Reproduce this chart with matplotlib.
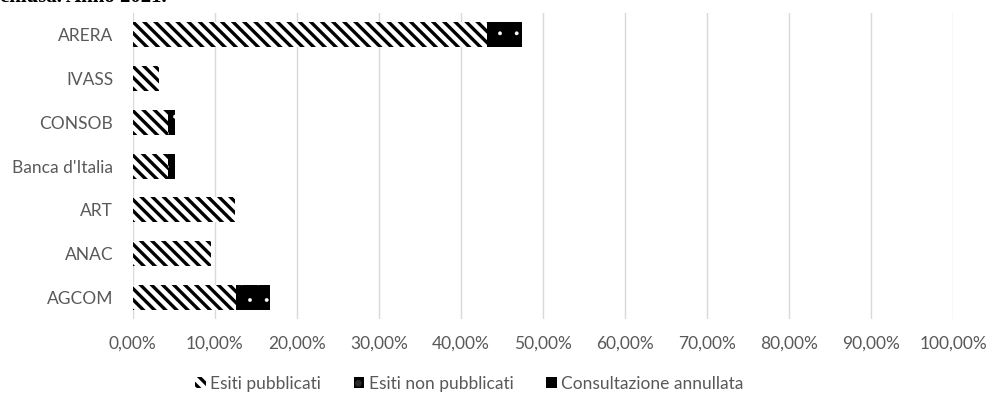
import matplotlib.pyplot as plt
from matplotlib.patches import Patch

# dati (quote sul totale, in %)
autorita = ["AGCOM", "ANAC", "ART", "Banca d'Italia", "CONSOB", "IVASS", "ARERA"]
esiti_pubblicati = [12.6, 9.5, 12.5, 4.3, 4.3, 3.2, 43.2]
esiti_non_pubblicati = [4.1, 0.0, 0.0, 0.9, 0.9, 0.0, 4.2]
consultazione_annullata = [0.0, 0.0, 0.0, 0.0, 0.0, 0.0, 0.0]
serie = ["Esiti pubblicati", "Esiti non pubblicati", "Consultazione annullata"]
xticks = [0, 10, 20, 30, 40, 50, 60, 70, 80, 90, 100]

plt.rcParams['font.family'] = ['Lato', 'DejaVu Sans']
plt.rcParams['hatch.linewidth'] = 2.4

fig = plt.figure(figsize=(9.9, 4.05), dpi=100)
ax = fig.add_axes([0.134, 0.212, 0.829, 0.756])

y = range(len(autorita))
h = 0.57
left2 = [a for a in esiti_pubblicati]
left3 = [a + b for a, b in zip(esiti_pubblicati, esiti_non_pubblicati)]
ax.barh(y, esiti_pubblicati, height=h, color='white', edgecolor='black',
        hatch='\\\\\\', linewidth=0)
b2 = ax.barh(y, esiti_non_pubblicati, left=left2, height=h, color='black',
             edgecolor='white', hatch='.', linewidth=0)
ax.barh(y, consultazione_annullata, left=left3, height=h, color='black',
        linewidth=0)
for p in b2:
    if hasattr(p, 'set_hatch_linewidth'):
        p.set_hatch_linewidth(0.3)

ax.set_xlim(0, 100)
ax.set_ylim(-0.5, len(autorita) - 0.5)
ax.set_xticks(xticks)
ax.set_xticklabels(["%d,00%%" % v for v in xticks], fontsize=12.5, color='#595959')
ax.set_yticks(list(y))
ax.set_yticklabels(autorita, fontsize=12.5, color='#595959')
ax.tick_params(axis='y', length=0, pad=14)
ax.tick_params(axis='x', length=0, pad=12)
ax.xaxis.grid(True, color='#d9d9d9', linewidth=1)
ax.set_axisbelow(True)
for s in ax.spines.values():
    s.set_visible(False)

h1 = Patch(facecolor='white', edgecolor='black', hatch='\\\\\\', linewidth=0)
h2 = Patch(facecolor='black', edgecolor='#2a2a2a', hatch='.', linewidth=0)
h3 = Patch(facecolor='black', linewidth=0)
if hasattr(h2, 'set_hatch_linewidth'):
    h2.set_hatch_linewidth(0.3)
fig.legend([h1, h2, h3], serie, loc='center', bbox_to_anchor=(0.474, 0.053), ncol=3,
           frameon=False, fontsize=12.5, handlelength=0.6, handleheight=0.6,
           handletextpad=0.25, columnspacing=1.9, labelcolor='#595959')

# titolo tagliato in alto
fig.text(0.0, 0.996, "chiusa. Anno 2021.", fontsize=15, fontweight='bold',
         family='Liberation Serif', va='baseline', ha='left')

fig.savefig("out.png", dpi=100)
